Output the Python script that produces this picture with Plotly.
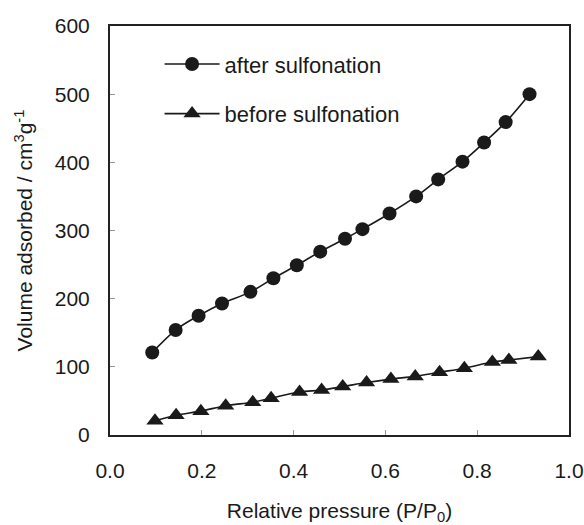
import plotly.graph_objects as go

p_after = [0.092, 0.143, 0.193, 0.244, 0.306, 0.356, 0.407, 0.458, 0.512, 0.550,
           0.609, 0.667, 0.715, 0.768, 0.815, 0.862, 0.914]
v_after = [121, 154, 175, 193, 210, 230, 249, 269, 288, 302,
           325, 350, 375, 401, 429, 459, 500]

p_before = [0.098, 0.144, 0.198, 0.252, 0.311, 0.351, 0.413, 0.461, 0.507, 0.559,
            0.612, 0.665, 0.718, 0.772, 0.833, 0.869, 0.933]
v_before = [21, 29, 35, 43, 48, 54, 63, 66, 71, 77,
            82, 86, 92, 98, 107, 110, 115]

x_ticks = [0.0, 0.2, 0.4, 0.6, 0.8, 1.0]
y_ticks = [0, 100, 200, 300, 400, 500, 600]

FONT = "Liberation Sans, Arial, sans-serif"
INK = "#1a1a1a"
FS = 21

fig = go.Figure()
fig.add_trace(go.Scatter(
    x=p_after, y=v_after, name="after sulfonation", legendgroup="a",
    mode="lines+markers", line=dict(color=INK, width=1.6, shape="spline"),
    marker=dict(symbol="circle", size=14, color=INK)))
fig.add_trace(go.Scatter(
    x=p_before, y=v_before, name="before sulfonation", legendgroup="b",
    mode="lines+markers", line=dict(color=INK, width=1.6, shape="spline"),
    marker=dict(symbol="triangle-up", size=15, color=INK)))

axis_common = dict(showgrid=False, zeroline=False, showline=True, linecolor="#222",
                   linewidth=2, mirror=True, ticks="inside", ticklen=5,
                   tickcolor="#999", tickwidth=1,
                   tickfont=dict(family=FONT, size=FS, color=INK))

fig.update_layout(
    width=584, height=525,
    margin=dict(l=110, r=15, t=26, b=90),
    paper_bgcolor="white", plot_bgcolor="white",
    font=dict(family=FONT, size=FS, color=INK),
    xaxis=dict(range=[0, 1], tickvals=x_ticks, tickformat=".1f", ticklabelstandoff=16,
               title=dict(text="Relative pressure (P/P<sub>0</sub>)", standoff=24,
                          font=dict(family=FONT, size=FS, color=INK)),
               automargin=False, **axis_common),
    yaxis=dict(range=[0, 600], tickvals=y_ticks, ticklabelstandoff=14,
               title=dict(text="Volume adsorbed / cm<sup>3</sup>g<sup>-1</sup>", standoff=16,
                          font=dict(family=FONT, size=FS, color=INK)),
               automargin=False, **axis_common),
    showlegend=True,
    legend=dict(x=0.108, y=0.958, xanchor="left", yanchor="top",
                bgcolor="rgba(0,0,0,0)", tracegroupgap=18, itemwidth=55,
                font=dict(family=FONT, size=FS + 1, color=INK)),
)

fig.write_html("out.html")
